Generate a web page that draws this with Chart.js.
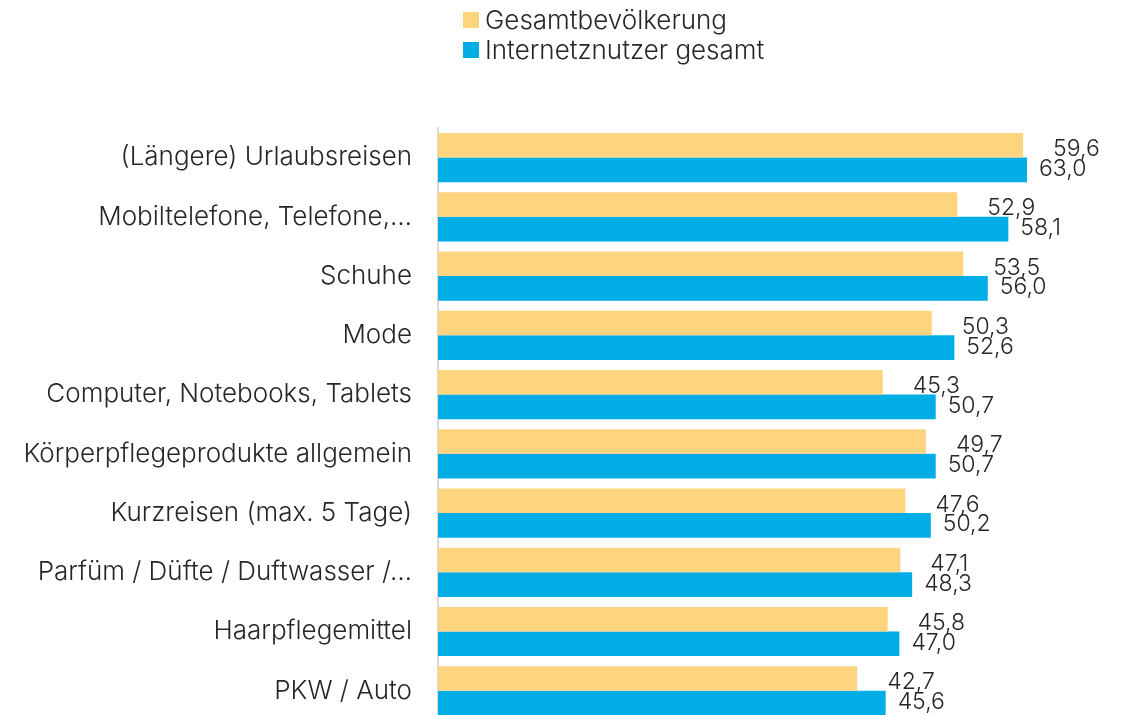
<!DOCTYPE html>
<html><head><meta charset="utf-8">
<script src="https://cdn.jsdelivr.net/npm/chart.js@4/dist/chart.umd.min.js"></script>
<style>
html,body{margin:0;padding:0;background:#fff;overflow:hidden;width:1122px;height:715px;}
#wrap{position:relative;width:1122px;height:762px;}
#legend{position:absolute;left:463px;top:5px;font-family:Inter,sans-serif;font-weight:300;font-size:26px;color:#262626;line-height:30px;}
#legend .it{display:flex;align-items:center;}
#legend .sw{width:16px;height:16px;margin-right:6px;}
</style></head>
<body><div id="wrap"><div id="legend"></div><canvas id="c" width="1122" height="762"></canvas></div>
<script>
const categories = ["(Längere) Urlaubsreisen","Mobiltelefone, Telefone,…","Schuhe","Mode","Computer, Notebooks, Tablets","Körperpflegeprodukte allgemein","Kurzreisen (max. 5 Tage)","Parfüm / Düfte / Duftwasser /…","Haarpflegemittel","PKW / Auto"];
const seriesNames = ["Gesamtbevölkerung","Internetznutzer gesamt"];
const gesamt = [59.6,52.9,53.5,50.3,45.3,49.7,47.6,47.1,45.8,42.7];
const internet = [63.0,58.1,56.0,52.6,50.7,50.7,50.2,48.3,47.0,45.6];
const colors = ["#FFD47F","#00ADE4"];
const FONT = 'Inter, sans-serif';

const labelPlugin = {
  id:'vlabels',
  afterDatasetsDraw(chart){
    const ctx = chart.ctx, area = chart.chartArea;
    ctx.save();
    ctx.font = '300 23px ' + FONT;
    ctx.fillStyle = '#262626';
    ctx.textAlign = 'left';
    ctx.textBaseline = 'middle';
    chart.data.datasets.forEach((ds, di) => {
      const meta = chart.getDatasetMeta(di);
      meta.data.forEach((el, i) => {
        const x = Math.min(el.x, area.right) + (di === 0 ? 30 : 12);
        const y = el.y + (di === 0 ? 4 : -1);
        ctx.fillText(ds.data[i].toFixed(1).replace('.', ','), x, y);
      });
    });
    ctx.restore();
  }
};

const chart = new Chart(document.getElementById('c'), {
  type:'bar',
  data:{
    labels:categories,
    datasets:[
      {label:seriesNames[0], data:gesamt, backgroundColor:colors[0]},
      {label:seriesNames[1], data:internet, backgroundColor:colors[1]}
    ]
  },
  options:{
    indexAxis:'y',
    responsive:false,
    animation:false,
    devicePixelRatio:1,
    layout:{padding:{top:128,right:95,bottom:0,left:0}},
    datasets:{bar:{categoryPercentage:0.83,barPercentage:1.0}},
    plugins:{legend:{display:false},tooltip:{enabled:false}},
    scales:{
      x:{display:false,min:0,max:60},
      y:{
        afterFit(s){ s.width = 438; },
        grid:{display:true,drawOnChartArea:false,drawTicks:false,color:'rgba(0,0,0,0)'},
        border:{display:true,color:'#D9D9D9',width:2},
        ticks:{padding:26,color:'#262626',font:{family:FONT,size:26,weight:'300'}}
      }
    }
  },
  plugins:[labelPlugin]
});

const lg = document.getElementById('legend');
chart.data.datasets.forEach(ds => {
  const d = document.createElement('div'); d.className='it';
  const s = document.createElement('span'); s.className='sw'; s.style.background = ds.backgroundColor;
  const t = document.createElement('span'); t.textContent = ds.label;
  d.appendChild(s); d.appendChild(t); lg.appendChild(d);
});
</script></body></html>
